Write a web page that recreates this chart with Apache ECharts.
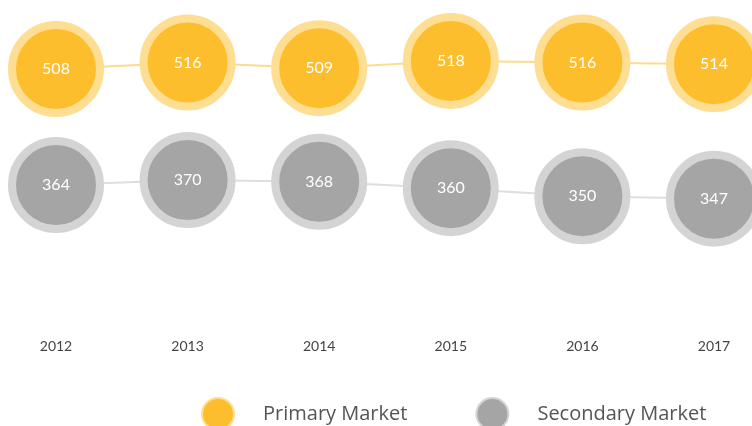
<!DOCTYPE html>
<html>
<head>
<meta charset="utf-8">
<script src="https://cdn.jsdelivr.net/npm/echarts@6/dist/echarts.min.js"></script>
<style>
  html, body { margin: 0; padding: 0; background: #fff; }
  #chart { width: 752px; height: 426px; }
</style>
</head>
<body>
<div id="chart"></div>
<script>
var years = ['2012', '2013', '2014', '2015', '2016', '2017']
var primaryMarket = [508, 516, 509, 518, 516, 514]
var secondaryMarket = [364, 370, 368, 360, 350, 347]

var chart = echarts.init(document.getElementById('chart'))

function bubbleSeries(name, values, fill, ring, line) {
  return {
    name: name,
    type: 'line',
    data: values,
    symbol: 'circle',
    symbolSize: 88,
    showAllSymbol: true,
    clip: false,
    lineStyle: { color: line, width: 2 },
    itemStyle: { color: fill, borderColor: ring, borderWidth: 8 },
    label: {
      show: true,
      position: 'inside',
      color: '#fff',
      fontSize: 16,
      fontFamily: 'Lato'
    },
    emphasis: { disabled: true }
  }
}

var option = {
  animation: false,
  grid: { left: 56, right: 38, top: 11, bottom: 109 },
  legend: {
    left: 196,
    top: 392,
    itemWidth: 32,
    itemHeight: 32,
    itemGap: 68,
    icon: 'circle',
    textStyle: {
      color: '#555',
      fontSize: 20,
      fontFamily: 'Open Sans',
      padding: [0, 0, 0, 24]
    },
    data: ['Primary Market', 'Secondary Market']
  },
  xAxis: {
    type: 'category',
    boundaryGap: false,
    data: years,
    axisLine: { show: false },
    axisTick: { show: false },
    axisLabel: {
      color: '#444',
      fontSize: 14,
      fontFamily: 'Lato',
      margin: 22
    }
  },
  yAxis: {
    type: 'value',
    min: 200,
    max: 580,
    show: false,
    splitLine: { show: false }
  },
  series: [
    bubbleSeries('Primary Market', primaryMarket, '#FDBE2D', '#FEDE92', '#FDDC8E'),
    bubbleSeries('Secondary Market', secondaryMarket, '#A5A5A5', '#D4D4D4', '#DEDEDE')
  ]
}

chart.setOption(option)
</script>
</body>
</html>
